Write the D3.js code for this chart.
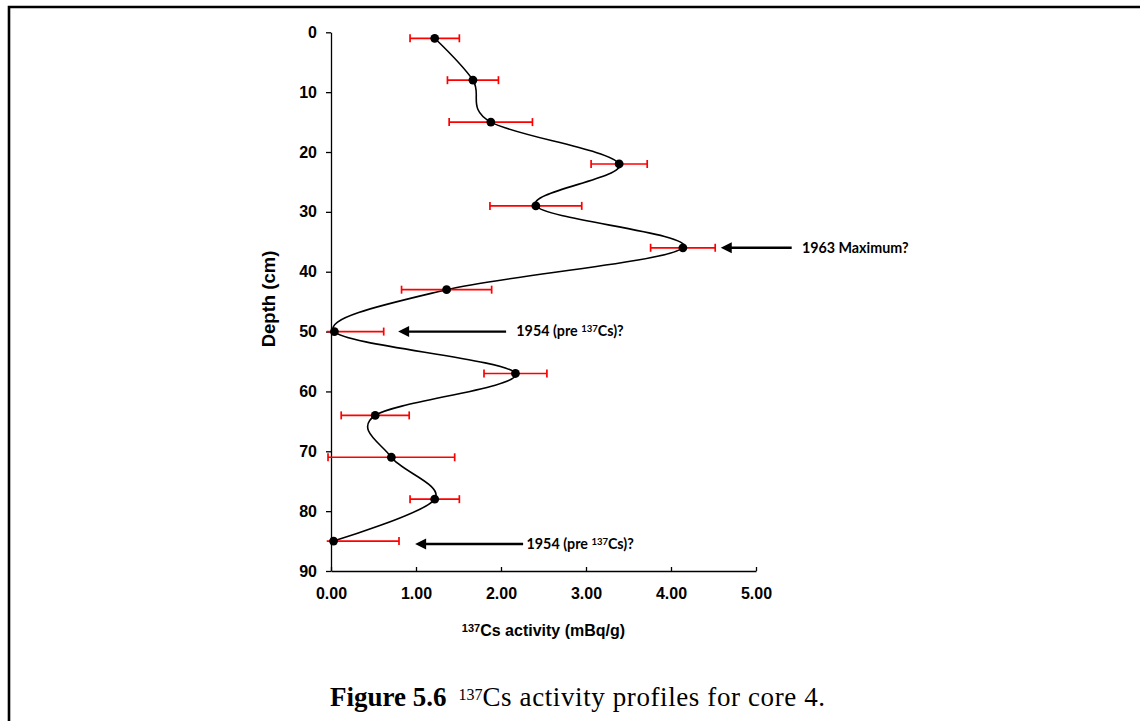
<!DOCTYPE html>
<html>
<head>
<meta charset="utf-8">
<script src="https://cdn.jsdelivr.net/npm/d3@7"></script>
<style>
  body { margin: 0; background: #fff; }
  svg { display: block; }
</style>
</head>
<body>
<div id="chart"></div>
<script>
// depth (cm) of each sample, 137Cs activity (mBq/g) and its error
var depths   = [1, 8, 15, 22, 29, 36, 43, 50, 57, 64, 71, 78, 85];
var activity = [1.22, 1.67, 1.88, 3.39, 2.41, 4.14, 1.36, 0.04, 2.17, 0.52, 0.71, 1.22, 0.03];
var errors   = [0.29, 0.30, 0.49, 0.33, 0.54, 0.38, 0.53, 0.58, 0.37, 0.40, 0.745, 0.29, 0.77];

var depthTicks = [0, 10, 20, 30, 40, 50, 60, 70, 80, 90];
var activityTicks = [0, 1, 2, 3, 4, 5];

// annotation labels: depth of the arrow, arrow tip / tail and label start (activity units)
var noteText  = ["1963 Maximum?", "1954 (pre |137|Cs)?", "1954 (pre |137|Cs)?"];
var noteDepth = [36, 50, 85.5];
var noteTip   = [4.585, 0.79, 0.99];
var noteTail  = [5.42, 2.06, 2.26];
var noteLabel = [5.54, 2.18, 2.30];

var width = 1140, height = 721;

var svg = d3.select("#chart")
    .append("svg")
    .attr("width", width)
    .attr("height", height);

// page frame (top and left edges only)
svg.append("path")
    .attr("d", "M9,721 V7 H1140")
    .attr("fill", "none")
    .attr("stroke", "black")
    .attr("stroke-width", 2.6);

var x = d3.scaleLinear().domain([0, 5]).range([331, 756]);
var y = d3.scaleLinear().domain([0, 90]).range([32.3, 571]);

var points = depths.map(function (d, i) {
    return { depth: d, value: activity[i], err: errors[i] };
});

// y axis
var yAxis = svg.append("g")
    .attr("transform", "translate(" + x(0) + ",0)")
    .call(d3.axisLeft(y).tickValues(depthTicks).tickSizeInner(5).tickSizeOuter(0).tickPadding(9));

// x axis, ticks pointing up
var xAxis = svg.append("g")
    .attr("transform", "translate(0," + y(90) + ")")
    .call(d3.axisBottom(x).tickValues(activityTicks).tickSizeInner(-4).tickSizeOuter(0)
        .tickPadding(17).tickFormat(d3.format(".2f")));

[yAxis, xAxis].forEach(function (a) {
    a.selectAll("path.domain").attr("stroke", "black").attr("stroke-width", 1.3);
    a.selectAll(".tick line").attr("stroke", "black").attr("stroke-width", 1.3);
    a.selectAll(".tick text")
        .attr("fill", "black")
        .style("font-family", "'Liberation Sans', Arial, sans-serif")
        .style("font-weight", "bold")
        .style("font-size", "16px");
});

// axis titles
svg.append("text")
    .attr("transform", "translate(275,299) rotate(-90)")
    .attr("text-anchor", "middle")
    .style("font-family", "'Liberation Sans', Arial, sans-serif")
    .style("font-weight", "bold")
    .style("font-size", "18.5px")
    .text("Depth (cm)");

var xt = svg.append("text")
    .attr("x", (x(0) + x(5)) / 2)
    .attr("y", 636)
    .attr("text-anchor", "middle")
    .style("font-family", "'Liberation Sans', Arial, sans-serif")
    .style("font-weight", "bold")
    .style("font-size", "16px");
xt.append("tspan").attr("baseline-shift", "38%").style("font-size", "11px").text("137");
xt.append("tspan").text("Cs activity (mBq/g)");

// smoothed profile line
var line = d3.line()
    .x(function (d) { return x(d.value); })
    .y(function (d) { return y(d.depth); })
    .curve(d3.curveCatmullRom.alpha(0));

svg.append("path")
    .datum(points)
    .attr("d", line)
    .attr("fill", "none")
    .attr("stroke", "black")
    .attr("stroke-width", 1.6);

// error bars (clipped just left of the axis)
var xMin = -0.05;
var bars = svg.selectAll(".errbar")
    .data(points)
    .enter().append("g")
    .attr("class", "errbar")
    .attr("stroke", "#ff0000")
    .attr("stroke-width", 1.7);

bars.append("line")
    .attr("x1", function (d) { return x(Math.max(xMin, d.value - d.err)); })
    .attr("x2", function (d) { return x(d.value + d.err); })
    .attr("y1", function (d) { return y(d.depth); })
    .attr("y2", function (d) { return y(d.depth); });

bars.append("line")
    .attr("x1", function (d) { return x(d.value + d.err); })
    .attr("x2", function (d) { return x(d.value + d.err); })
    .attr("y1", function (d) { return y(d.depth) - 4; })
    .attr("y2", function (d) { return y(d.depth) + 4; });

bars.filter(function (d) { return d.value - d.err >= xMin; })
    .append("line")
    .attr("x1", function (d) { return x(d.value - d.err); })
    .attr("x2", function (d) { return x(d.value - d.err); })
    .attr("y1", function (d) { return y(d.depth) - 4; })
    .attr("y2", function (d) { return y(d.depth) + 4; });

// markers
svg.selectAll(".dot")
    .data(points)
    .enter().append("circle")
    .attr("class", "dot")
    .attr("cx", function (d) { return x(d.value); })
    .attr("cy", function (d) { return y(d.depth); })
    .attr("r", 4.4)
    .attr("fill", "black");

// annotations with arrows
var notes = noteText.map(function (t, i) {
    return { text: t, depth: noteDepth[i], tip: noteTip[i], tail: noteTail[i], label: noteLabel[i] };
});

var note = svg.selectAll(".note")
    .data(notes)
    .enter().append("g")
    .attr("class", "note");

note.append("line")
    .attr("x1", function (d) { return x(d.tip) + 9; })
    .attr("x2", function (d) { return x(d.tail); })
    .attr("y1", function (d) { return y(d.depth); })
    .attr("y2", function (d) { return y(d.depth); })
    .attr("stroke", "black")
    .attr("stroke-width", 2.4);

note.append("path")
    .attr("d", function (d) {
        var tx = x(d.tip), ty = y(d.depth);
        return "M" + tx + "," + ty + " L" + (tx + 11) + "," + (ty - 5.5) + " L" + (tx + 11) + "," + (ty + 5.5) + " Z";
    })
    .attr("fill", "black");

var noteLabels = note.append("text")
    .attr("x", function (d) { return x(d.label); })
    .attr("y", function (d) { return y(d.depth) + 4.8; })
    .style("font-family", "Lato, 'Open Sans', sans-serif")
    .style("font-weight", "bold")
    .style("font-size", "14.3px")
    .attr("fill", "black");

noteLabels.each(function (d) {
    var t = d3.select(this);
    d.text.split("|").forEach(function (part, k) {
        if (k === 1) {
            t.append("tspan").attr("baseline-shift", "40%").style("font-size", "9.5px").text(part);
        } else {
            t.append("tspan").text(part);
        }
    });
});

// figure caption
var cap = svg.append("text")
    .attr("x", 330)
    .attr("y", 706)
    .style("font-family", "'Liberation Serif', 'Times New Roman', serif")
    .style("font-size", "27px")
    .attr("fill", "black");
cap.append("tspan").style("font-weight", "bold").text("Figure 5.6");
cap.append("tspan").attr("dx", 12).attr("baseline-shift", "38%").style("font-size", "16px").text("137");
cap.append("tspan").style("letter-spacing", "0.6px").text("Cs activity profiles for core 4.");
</script>
</body>
</html>
